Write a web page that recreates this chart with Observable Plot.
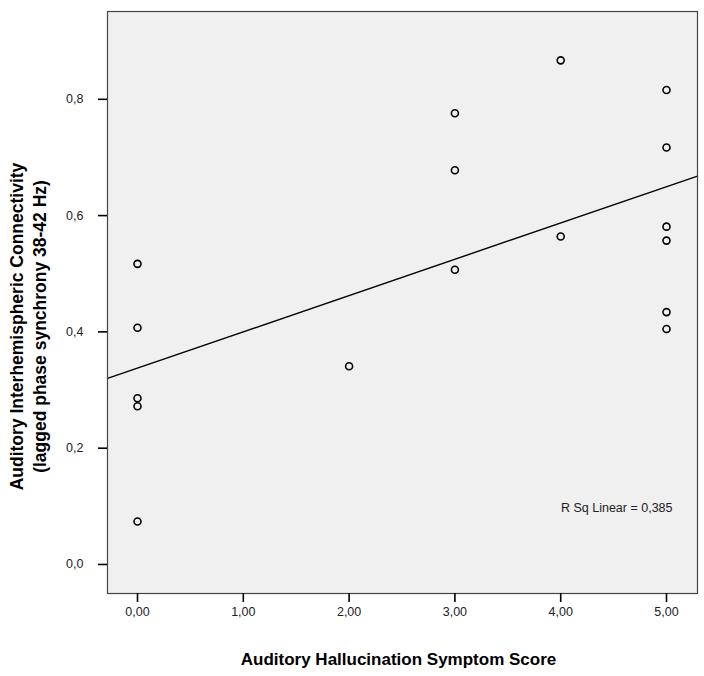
<!DOCTYPE html>
<html>
<head>
<meta charset="utf-8">
<script src="https://cdn.jsdelivr.net/npm/d3@7"></script>
<script src="https://cdn.jsdelivr.net/npm/@observablehq/plot@0.6"></script>
<style>
  html, body { margin: 0; padding: 0; background: #fff; }
</style>
</head>
<body>
<div id="chart"></div>
<script>
// Data
const symptomScore = [0, 0, 0, 0, 0, 2, 3, 3, 3, 4, 4, 5, 5, 5, 5, 5, 5];
const connectivity = [0.517, 0.407, 0.286, 0.272, 0.074, 0.341, 0.776, 0.678, 0.507, 0.867, 0.564, 0.816, 0.717, 0.581, 0.557, 0.434, 0.405];
const xTicks = [0, 1, 2, 3, 4, 5];
const yTicks = [0, 0.2, 0.4, 0.6, 0.8];
const xLabel = "Auditory Hallucination Symptom Score";
const yLabel = "Auditory Interhemispheric Connectivity\n(lagged phase synchrony 38-42 Hz)";
const rsqLabel = "R Sq Linear = 0,385";

const xDomain = [-0.2836, 5.293];
const yDomain = [-0.0499, 0.951];

const points = symptomScore.map((x, i) => ({x, y: connectivity[i]}));

// least-squares fit from the data
const mx = d3.mean(symptomScore), my = d3.mean(connectivity);
const sxy = d3.sum(points, d => (d.x - mx) * (d.y - my));
const sxx = d3.sum(points, d => (d.x - mx) ** 2);
const slope = sxy / sxx, intercept = my - slope * mx;
const fit = xDomain.map(x => ({x, y: intercept + slope * x}));

const comma = (n, k) => n.toFixed(k).replace(".", ",");
const narrow = "'Liberation Sans Narrow', 'Arial Narrow', 'Liberation Sans', sans-serif";
const bold = "'Liberation Sans', Arial, sans-serif";

const chart = Plot.plot({
  width: 704,
  height: 676,
  marginLeft: 107,
  marginRight: 7,
  marginTop: 11,
  marginBottom: 83,
  style: {fontFamily: narrow, fontSize: "12.5px", background: "#fff", color: "#000"},
  x: {domain: xDomain, ticks: xTicks, tickFormat: d => comma(d, 2), tickSize: 9, tickPadding: 5, label: null},
  y: {domain: yDomain, ticks: yTicks, tickFormat: d => comma(d, 1), tickSize: 9, tickPadding: 15, label: null},
  marks: [
    Plot.frame({fill: "#f0f0f0", stroke: null}),
    Plot.line(fit, {x: "x", y: "y", stroke: "#000", strokeWidth: 1.4}),
    Plot.dot(points, {x: "x", y: "y", r: 3.5, stroke: "#000", strokeWidth: 1.6, fill: "none"}),
    Plot.text([rsqLabel], {frameAnchor: "bottom-right", textAnchor: "end", lineAnchor: "middle", dx: -25, dy: -86, fontSize: 12.5, fill: "#222"}),
    Plot.frame({stroke: "#444", strokeWidth: 1.2}),
    Plot.axisX({ticks: xTicks, tickFormat: d => comma(d, 2), tickSize: 9, tickPadding: 5, strokeWidth: 1.6, label: null, fill: "#222"}),
    Plot.axisY({ticks: yTicks, tickFormat: d => comma(d, 1), tickSize: 9, tickPadding: 15, strokeWidth: 1.6, label: null, fill: "#222"}),
    Plot.text([xLabel], {frameAnchor: "bottom", textAnchor: "middle", lineAnchor: "middle", dx: -4, dy: 66, fontFamily: bold, fontWeight: "bold", fontSize: 17, fill: "#000"}),
    Plot.text([yLabel], {frameAnchor: "left", textAnchor: "middle", lineAnchor: "middle", rotate: -90, dx: -80, dy: 24, lineHeight: 1.3, fontFamily: bold, fontWeight: "bold", fontSize: 17.5, fill: "#000"})
  ]
});
document.getElementById("chart").appendChild(chart);
</script>
</body>
</html>
